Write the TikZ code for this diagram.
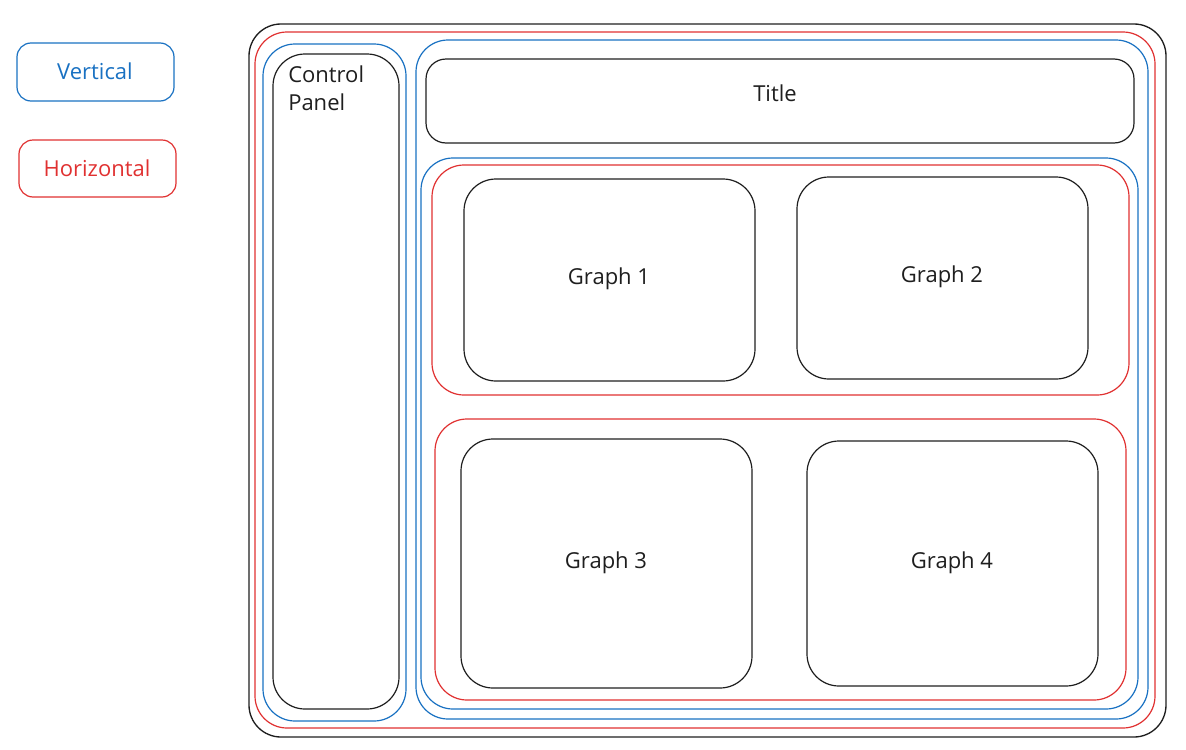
\documentclass[tikz,border=0pt]{standalone}
\usepackage{fontspec}
\setmainfont{Open Sans}
\definecolor{exblue}{HTML}{1971C2}
\definecolor{exred}{HTML}{E03131}
\definecolor{exblack}{HTML}{1E1E1E}
\begin{document}
\begin{tikzpicture}[x=0.75pt,y=-0.75pt,
  bk/.style={draw=exblack,line width=0.9pt,rounded corners=24pt},
  bl/.style={draw=exblue,line width=0.9pt,rounded corners=24pt},
  rd/.style={draw=exred,line width=0.9pt,rounded corners=24pt},
  lbl/.style={font=\fontsize{16.5}{21}\selectfont,text=exblack,inner sep=0pt}]
\useasboundingbox (0,0) rectangle (1186,750);
% legend
\draw[bl,rounded corners=10.5pt] (17,43) rectangle (174,101);
\node[lbl,text=exblue] (vert) at (95,71) {Vertical};
\draw[rd,rounded corners=10.5pt] (19,140) rectangle (176,197);
\node[lbl,text=exred] (horiz) at (97,168) {Horizontal};
% outer
\draw[bk,line width=1pt] (249,24) rectangle (1166,737);
\draw[rd] (255,32) rectangle (1155,728);
% left column
\draw[bl] (263,44) rectangle (406,721);
\draw[bk] (273,54) rectangle (399,709);
\node[lbl,anchor=north west,align=left] (cp) at (288,66) {Control\\Panel};
% right column
\draw[bl] (416,40) rectangle (1148,719);
\draw[bk,rounded corners=15pt] (426,59) rectangle (1134,143);
\node[lbl] (title) at (775,93) {Title};
\draw[bl] (421,158) rectangle (1138,709);
% top row
\draw[rd] (432,165) rectangle (1129,395);
\draw[bk] (464,179) rectangle (755,381);
\node[lbl] (g1) at (609,279) {Graph 1};
\draw[bk] (797,177) rectangle (1088,379);
\node[lbl] (g2) at (942,277) {Graph 2};
% bottom row
\draw[rd] (435,419) rectangle (1126,700);
\draw[bk] (461,439) rectangle (752,688);
\node[lbl] (g3) at (606,563) {Graph 3};
\draw[bk] (807,441) rectangle (1098,686);
\node[lbl] (g4) at (952,563) {Graph 4};
\end{tikzpicture}
\end{document}
